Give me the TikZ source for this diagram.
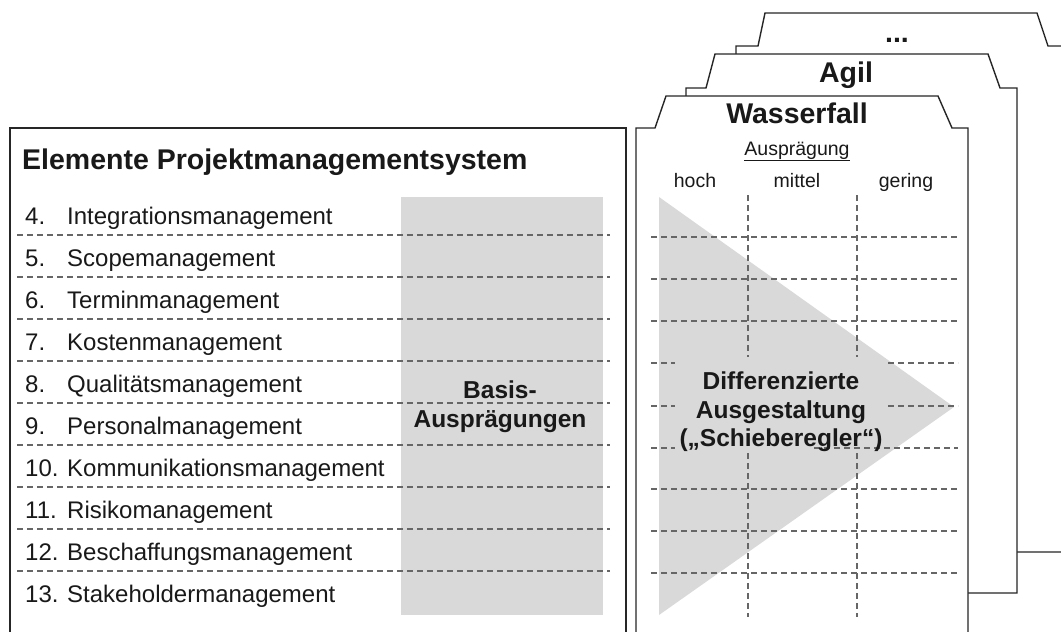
\documentclass[tikz,border=0pt]{standalone}
\usepackage{fontspec}
\setmainfont{Liberation Sans}
\begin{document}
\begin{tikzpicture}[x=1pt,y=-1pt,
  frame/.style={draw=black!85, line width=1.4pt, fill=white, line join=miter},
  rowline/.style={draw=black!60, line width=1.3pt, dash pattern=on 6pt off 4pt},
  shade/.style={fill=black!15},
  rowtext/.style={anchor=base west, inner sep=0pt, text=black!90,
    font=\fontsize{24}{28}\selectfont},
  boldtext/.style={anchor=base, inner sep=0pt, text=black!90,
    font=\fontsize{24.5}{30}\selectfont\bfseries},
  titletext/.style={anchor=base, inner sep=0pt, text=black!90,
    font=\fontsize{28.5}{32}\selectfont\bfseries},
  smalltext/.style={anchor=base, inner sep=0pt, text=black!90,
    font=\fontsize{19.5}{22}\selectfont}]
\useasboundingbox (0,0) rectangle (1061,632);
\clip (0,0) rectangle (1061,632);

% ---- stacked cards, back to front ----
\draw[frame] (736,552) -- (1090,552) -- (1090,46) -- (1048,46) -- (1037,13)
  -- (765,13) -- (758,46) -- (736,46) -- cycle;
\draw[frame] (686,593) -- (1017,593) -- (1017,88) -- (1000,88) -- (988,54)
  -- (715,54) -- (706,88) -- (686,88) -- cycle;
\draw[frame] (636,700) -- (636,128) -- (655,128) -- (666,96) -- (938,96)
  -- (952,128) -- (968,128) -- (968,700);

\node[titletext] (dots) at (897,42) {...};
\node[titletext] (agil) at (846,82) {Agil};
\node[titletext] (wf) at (797,123) {Wasserfall};

% ---- left panel ----
\draw[frame] (10,128) rectangle (626,700);
\node[titletext, anchor=base west] (title) at (22,169)
  {Elemente Projektmanagementsystem};
\fill[shade] (401,197) rectangle (603,615);

% row separators in the left panel
\foreach \k in {0,...,8}
  \draw[rowline] (17,235+42*\k) -- (610,235+42*\k);

% rows
\foreach \n/\t [count=\k from 0] in {4./Integrationsmanagement,
    5./Scopemanagement, 6./Terminmanagement, 7./Kostenmanagement,
    8./Qualitätsmanagement, 9./Personalmanagement,
    10./Kommunikationsmanagement, 11./Risikomanagement,
    12./Beschaffungsmanagement, 13./Stakeholdermanagement}{
  \node[rowtext] (num\k) at (25,224+42*\k) {\n};
  \node[rowtext] (lbl\k) at (67,224+42*\k) {\t};
}

\node[boldtext] (basis1) at (500,398) {Basis-};
\node[boldtext] (basis2) at (500,427) {Ausprägungen};

% ---- Wasserfall card content ----
\node[smalltext] (auspr) at (797,155) {\underline{Ausprägung}};
\node[smalltext] (hoch) at (695,187) {hoch};
\node[smalltext] (mittel) at (797,187) {mittel};
\node[smalltext] (gering) at (906,187) {gering};

\fill[shade] (659,197) -- (954,407) -- (659,615) -- cycle;

% scale columns
\foreach \x in {748,857}{
  \draw[rowline] (\x,195) -- (\x,357);
  \draw[rowline] (\x,453) -- (\x,617);
}
% scale rows
\foreach \y in {237,279,321,489,531,573}
  \draw[rowline] (651,\y) -- (958,\y);
\foreach \y in {363,406,448}
  \draw[rowline] (651,\y) -- (675,\y);
\draw[rowline] (888,363) -- (958,363);
\draw[rowline] (888,406) -- (958,406);
\draw[rowline] (814,448) -- (958,448);

\node[boldtext] (diff1) at (781,389) {Differenzierte};
\node[boldtext] (diff2) at (781,418) {Ausgestaltung};
\node[boldtext] (diff3) at (781,446) {(„Schieberegler“)};
\end{tikzpicture}
\end{document}
